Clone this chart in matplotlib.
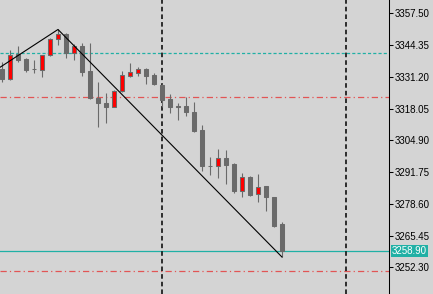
import numpy as np
import matplotlib
matplotlib.use('Agg')
import matplotlib.pyplot as plt

plt.rcParams['font.family'] = ['Liberation Sans', 'DejaVu Sans']
plt.rcParams['font.size'] = 7

# Velas (open, high, low, close)
opens = [3334.42, 3330.28, 3340.64, 3338.57, 3334.60, 3334.01, 3340.22, 3346.85, 3348.92, 3341.05,
         3343.95, 3333.59, 3322.41, 3320.34, 3318.68, 3325.31, 3331.52, 3332.77, 3334.42, 3331.94,
         3327.79, 3321.99, 3319.09, 3319.09, 3316.61, 3309.15, 3294.40, 3294.24, 3297.55, 3295.06,
         3283.88, 3289.68, 3282.64, 3285.95, 3281.39, 3270.21]
highs = [3337.32, 3342.30, 3343.95, 3338.98, 3338.15, 3340.40, 3347.27, 3350.80, 3349.34, 3344.78,
         3345.19, 3345.19, 3329.04, 3324.48, 3325.72, 3333.59, 3336.91, 3335.25, 3334.84, 3332.77,
         3328.21, 3324.06, 3320.34, 3322.82, 3320.75, 3311.22, 3297.96, 3301.28, 3300.86, 3295.48,
         3291.33, 3289.90, 3290.92, 3286.10, 3281.60, 3271.03]
lows = [3329.04, 3329.87, 3337.32, 3333.18, 3332.77, 3331.11, 3339.81, 3344.37, 3338.98, 3338.15,
        3331.52, 3321.99, 3310.39, 3312.05, 3318.50, 3324.89, 3331.11, 3331.52, 3328.21, 3327.79,
        3318.68, 3316.19, 3313.29, 3314.95, 3308.32, 3292.16, 3290.51, 3289.26, 3286.78, 3283.05,
        3281.39, 3281.81, 3279.32, 3275.59, 3268.96, 3256.53]
closes = [3330.28, 3340.22, 3338.15, 3334.01, 3334.50, 3340.22, 3346.85, 3348.92, 3341.05, 3343.95,
          3333.18, 3322.41, 3320.34, 3318.68, 3325.31, 3331.94, 3333.18, 3334.42, 3331.52, 3328.21,
          3321.58, 3318.68, 3318.89, 3316.61, 3308.74, 3294.24, 3294.30, 3297.55, 3294.65, 3283.88,
          3289.68, 3282.22, 3285.54, 3281.39, 3269.38, 3258.90]

# Linhas desenhadas
trend_idx = [-0.25, 7, 35]
trend_price = [3335.13, 3350.80, 3256.53]
level_teal = 3340.93
levels_red = [3322.70, 3250.60]
vlines_idx = [20, 43]
price_ticks = [3357.50, 3344.35, 3331.20, 3318.05, 3304.90, 3291.75, 3278.60, 3265.45, 3252.30]

bg = '#d4d4d4'
grey = '#6a6a6a'
teal = '#20b0a5'
red_line = '#e25555'

fig = plt.figure(figsize=(4.33, 2.94), dpi=100, facecolor=bg)
ax = fig.add_axes([0, 0, 389 / 433, 1])
ax.set_facecolor(bg)

x = np.arange(len(opens))
o = np.array(opens)
c = np.array(closes)
up = c > o

# niveis horizontais
ax.axhline(level_teal, color=teal, lw=0.9, ls=(0, (2.5, 1.7)), zorder=1)
for lv in levels_red:
    ax.axhline(lv, color=red_line, lw=0.9, ls=(0, (5, 2.5, 1, 2.5)), zorder=1)
ax.axhline(closes[-1], color=teal, lw=0.9, zorder=1)
for v in vlines_idx:
    ax.axvline(v, color='black', lw=1.1, ls=(0, (3, 2)), zorder=1)

# pavios e corpos
ax.vlines(x, lows, highs, color=grey, lw=0.8, zorder=2)
bottom = np.minimum(o, c)
height = np.maximum(np.abs(c - o), 0.05)
ax.bar(x[~up], height[~up], bottom=bottom[~up], width=0.55, color=grey,
       edgecolor=grey, lw=0.75, zorder=3)
ax.bar(x[up], height[up], bottom=bottom[up], width=0.55, color='#ff0000',
       edgecolor=grey, lw=0.75, zorder=3)

# linha de tendencia
ax.plot(trend_idx, trend_price, color='black', lw=0.8, zorder=4)

ax.set_xlim(-0.25, 48.375)
ax.set_ylim(3241.22, 3363.01)
ax.set_xticks([])
for s in ['top', 'bottom', 'left']:
    ax.spines[s].set_visible(False)
ax.spines['right'].set_color('black')
ax.spines['right'].set_linewidth(0.75)
ax.yaxis.tick_right()
ax.set_yticks(price_ticks)
ax.set_yticklabels(['%.2f' % p for p in price_ticks])
ax.tick_params(axis='y', length=3, width=0.75, pad=0.8, colors='black', labelsize=7)

ax.annotate('%.2f' % closes[-1], xy=(1, closes[-1]), xycoords=('axes fraction', 'data'),
            xytext=(2.2, 0), textcoords='offset points', va='center', ha='left',
            color='white', fontsize=7,
            bbox=dict(boxstyle='square,pad=0.12', fc=teal, ec='none'))

fig.savefig('out.png', dpi=100, facecolor=bg)
